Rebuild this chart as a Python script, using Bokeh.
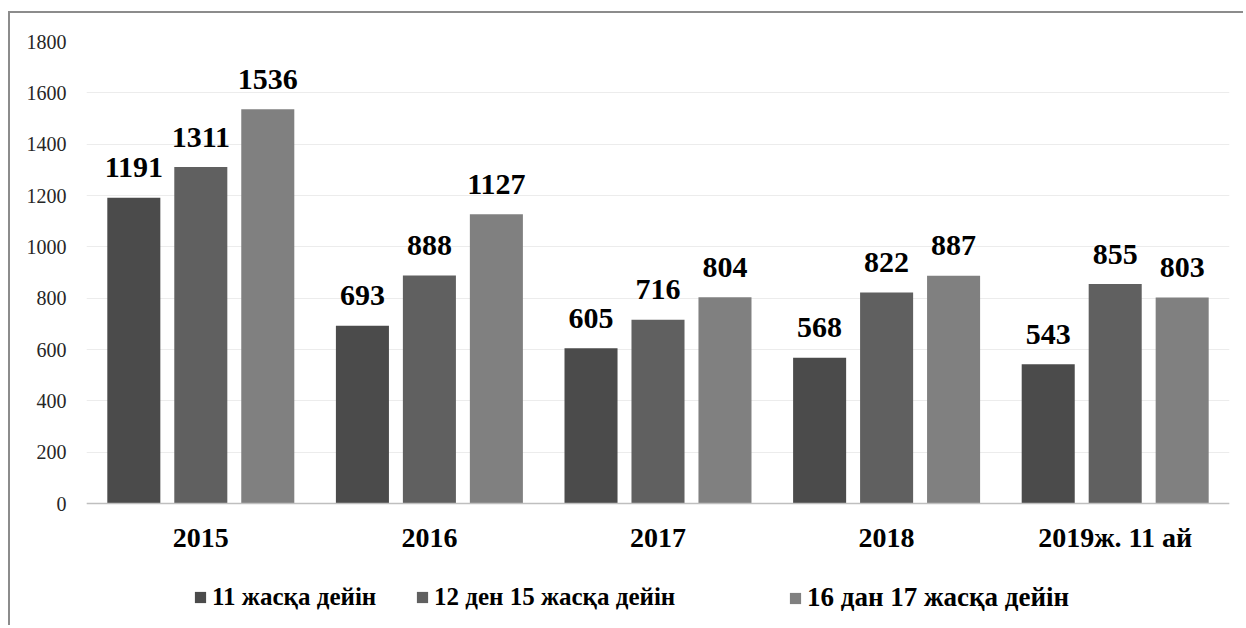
from bokeh.plotting import figure
from bokeh.models import (ColumnDataSource, FactorRange, Range1d, Legend, LegendItem,
                          FixedTicker, Span)
from bokeh.transform import dodge
from bokeh.embed import file_html
from bokeh.resources import INLINE
from bokeh.core.properties import value

categories = ["2015", "2016", "2017", "2018", "2019ж. 11 ай"]
series_names = ["11 жасқа дейін", "12 ден 15 жасқа дейін", "16 дан 17 жасқа дейін"]
s1 = [1191, 693, 605, 568, 543]
s2 = [1311, 888, 716, 822, 855]
s3 = [1536, 1127, 804, 887, 803]
y_ticks = [0, 200, 400, 600, 800, 1000, 1200, 1400, 1600, 1800]
colors = ["#4b4b4b", "#606060", "#808080"]

src = ColumnDataSource(dict(
    cat=categories, s1=s1, s2=s2, s3=s3, zero=[0] * len(categories),
    l1=[str(v) for v in s1], l2=[str(v) for v in s2], l3=[str(v) for v in s3],
))

p = figure(x_range=FactorRange(*categories), y_range=Range1d(-475, 1800),
           width=1235, height=614, output_backend="svg", toolbar_location=None,
           min_border_left=76, min_border_right=16, min_border_top=28, min_border_bottom=2)
p.margin = (11, 0, 0, 8)
p.styles = {"border-left": "2px solid #8c8c8c", "border-top": "2px solid #8c8c8c"}
p.outline_line_color = None
p.xgrid.grid_line_color = None
p.xaxis.visible = False
p.ygrid.grid_line_color = "#ececec"
p.ygrid.grid_line_width = 1
p.yaxis.ticker = FixedTicker(ticks=y_ticks)
p.yaxis.axis_line_color = None
p.yaxis.major_tick_line_color = None
p.yaxis.minor_tick_line_color = None
p.yaxis.major_label_text_font = "Liberation Serif"
p.yaxis.major_label_text_font_size = "20px"
p.yaxis.major_label_text_color = "#262626"
p.yaxis.major_label_standoff = 14

p.add_layout(Span(location=0, dimension="width", line_color="#bfbfbf", line_width=1.5))

# category labels under the baseline
p.text(x="cat", y="zero", text="cat", source=src, text_align="center",
       text_baseline="middle", y_offset=34, text_font=value("Liberation Serif"),
       text_font_size="28px", text_font_style="bold", text_color="#000000")

w = 0.232
off = 0.293
renderers = []
for i, (col, lab) in enumerate([("s1", "l1"), ("s2", "l2"), ("s3", "l3")]):
    d = (i - 1) * off
    r = p.vbar(x=dodge("cat", d, range=p.x_range), top=col, width=w, source=src,
               fill_color=colors[i], line_color=None)
    renderers.append(r)
    p.text(x=dodge("cat", d, range=p.x_range), y=col, text=lab, source=src,
           text_align="center", text_baseline="alphabetic", y_offset=-30,
           text_font=value("Liberation Serif"), text_font_size="30px",
           text_font_style="bold", text_color="#000000")

legend_x = [107, 329, 702]
legend_y = [14, 14, 12]
legend_size = ["25px", "25px", "27px"]
for i in range(3):
    lg = Legend(items=[LegendItem(label=series_names[i], renderers=[renderers[i]])],
                location=(legend_x[i], legend_y[i]), orientation="horizontal",
                padding=0, margin=0, border_line_color=None, background_fill_alpha=0,
                glyph_width=14, glyph_height=14, label_standoff=5,
                label_text_font="Liberation Serif", label_text_font_size=legend_size[i],
                label_text_font_style="bold", label_text_color="#000000")
    p.add_layout(lg, "center")

open("out.html", "w").write(file_html(p, INLINE))
